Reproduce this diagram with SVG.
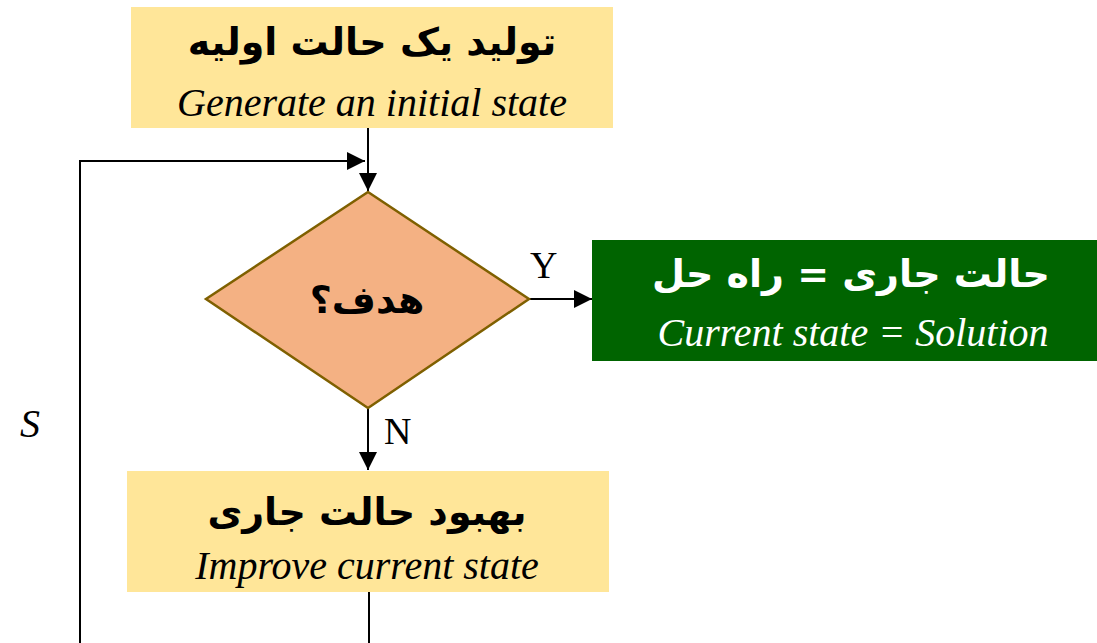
<svg xmlns="http://www.w3.org/2000/svg" width="1097" height="643" viewBox="0 0 1097 643">
  <defs>
    <marker id="arrow" viewBox="0 0 10 10" refX="10" refY="5" markerWidth="18" markerHeight="18" markerUnits="userSpaceOnUse" orient="auto">
      <path d="M0,0 L10,5 L0,10 Z" fill="#000"/>
    </marker>
    <style>
      .box { fill: #FFE699; }
      .fa { font-family: "DejaVu Sans", sans-serif; font-weight: bold; font-size: 38px; text-anchor: middle; direction: rtl; }
      .en { font-family: "Liberation Serif", serif; font-style: italic; font-size: 40px; text-anchor: middle; }
      .lbl { font-family: "Liberation Serif", serif; font-size: 38px; }
      .line { stroke: #000; stroke-width: 2; fill: none; }
    </style>
  </defs>
  <rect width="1097" height="643" fill="#fff"/>

  <!-- connectors -->
  <g id="connectors">
    <line class="line" x1="368" y1="128" x2="368" y2="191" marker-end="url(#arrow)"/>
    <polyline class="line" points="80,643 80,161 365,161" marker-end="url(#arrow)"/>
    <line class="line" x1="529" y1="299" x2="592" y2="299" marker-end="url(#arrow)"/>
    <line class="line" x1="368" y1="408" x2="368" y2="470" marker-end="url(#arrow)"/>
    <line class="line" x1="369" y1="592" x2="369" y2="643"/>
    <text class="lbl" x="530" y="278">Y</text>
    <text class="lbl" x="384" y="444">N</text>
    <text x="20" y="437" font-family="Liberation Serif, serif" font-style="italic" font-size="40">S</text>
  </g>

  <!-- start node -->
  <g id="start">
    <rect class="box" x="131" y="7" width="482" height="121"/>
    <text class="fa" x="372" y="55">تولید یک حالت اولیه</text>
    <text class="en" x="372" y="116">Generate an initial state</text>
  </g>

  <!-- decision -->
  <g id="goal">
    <polygon points="368,192 529,299 368,408 206,299" fill="#F4B183" stroke="#7F6000" stroke-width="2.5"/>
    <text class="fa" x="367" y="313" font-size="35">هدف؟</text>
  </g>

  <!-- solution -->
  <g id="solution">
    <rect x="592" y="240" width="505" height="121" fill="#006400"/>
    <text class="fa" x="851" y="287" fill="#fff" font-size="37">حالت جاری = راه حل</text>
    <text class="en" x="853" y="346" fill="#fff">Current state = Solution</text>
  </g>

  <!-- improve -->
  <g id="improve">
    <rect class="box" x="127" y="471" width="482" height="121"/>
    <text class="fa" x="367" y="525">بهبود حالت جاری</text>
    <text class="en" x="367" y="579">Improve current state</text>
  </g>
</svg>
